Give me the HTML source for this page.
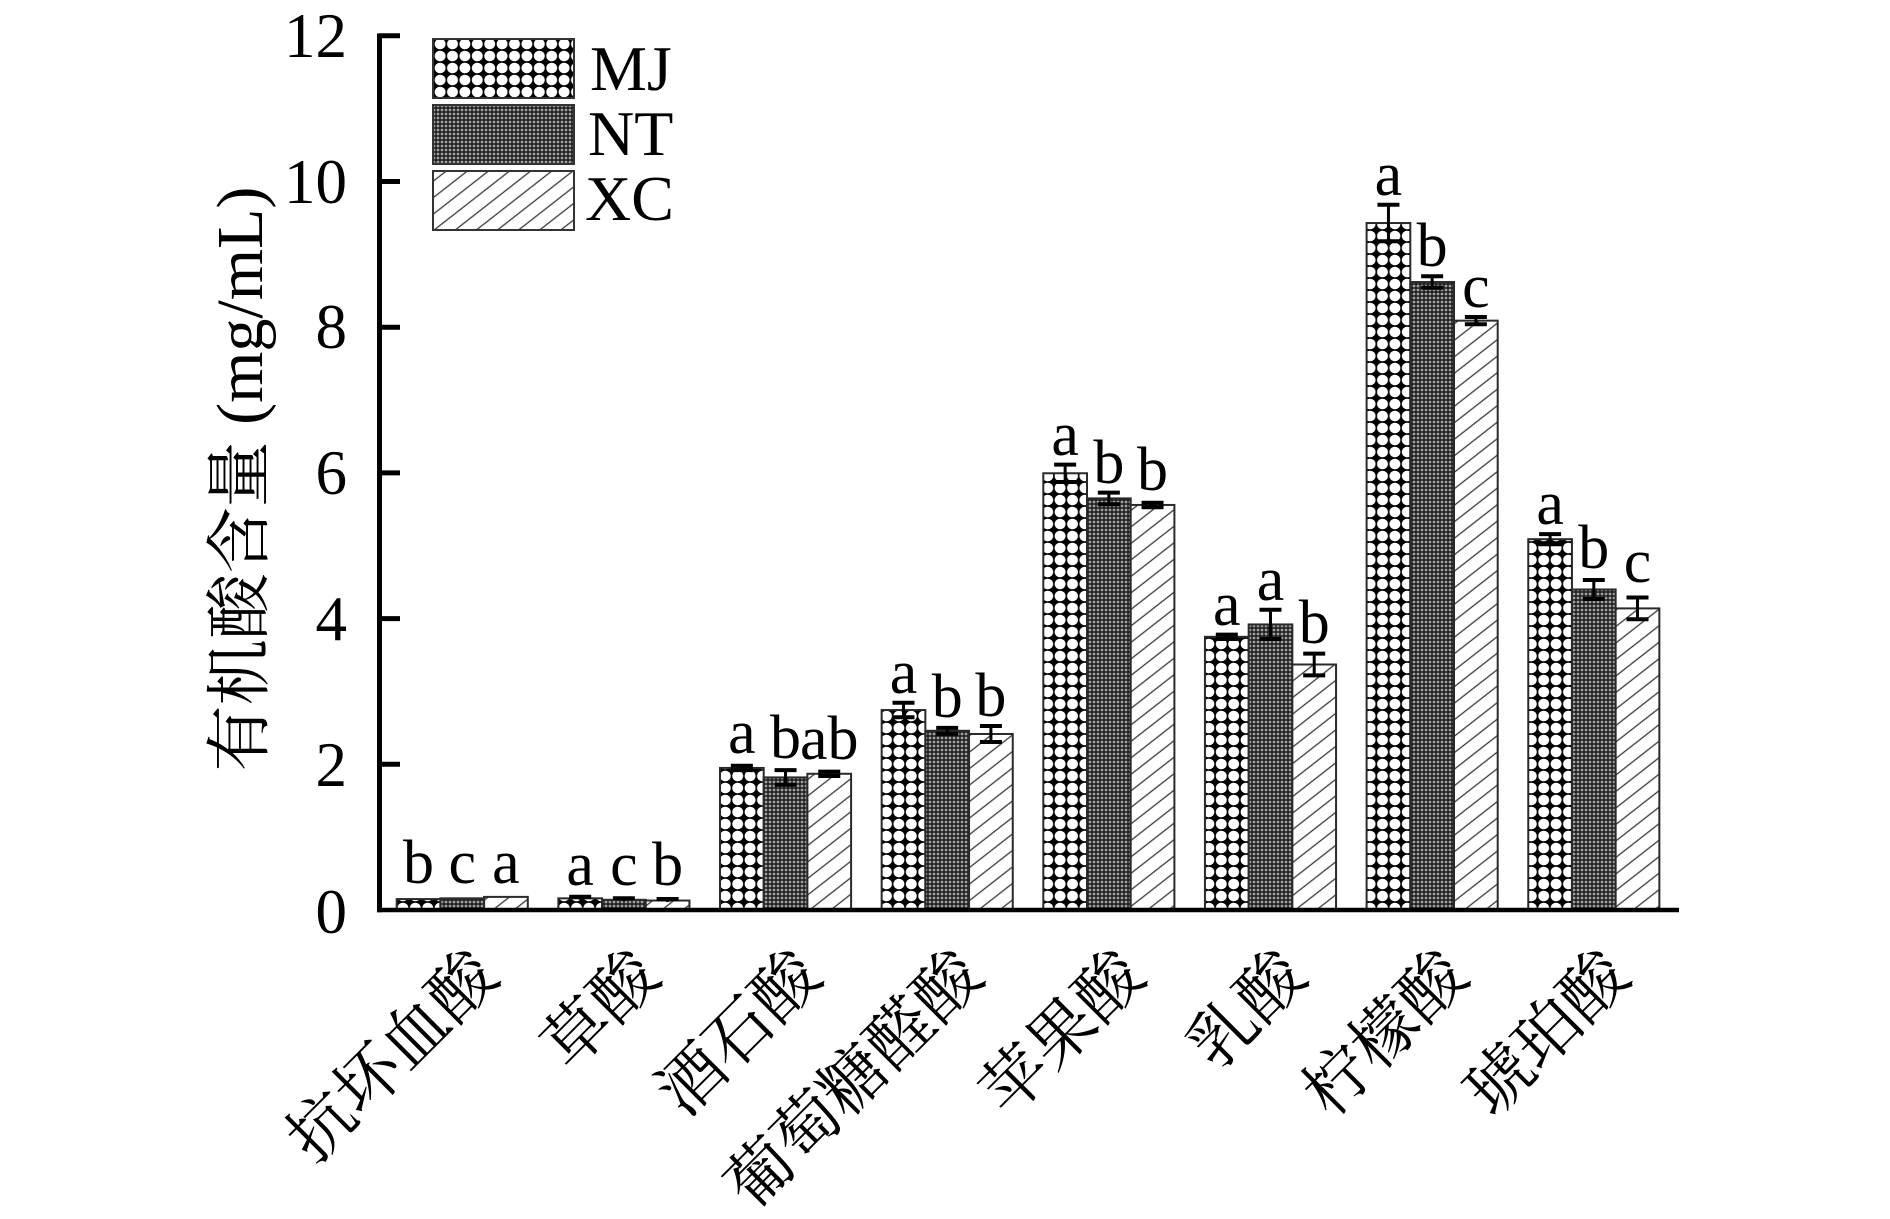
<!DOCTYPE html>
<html><head><meta charset="utf-8"><style>
html,body{margin:0;padding:0;background:#fff;}
svg{display:block;}
</style></head><body>
<svg width="1890" height="1219" viewBox="0 0 1890 1219" xmlns="http://www.w3.org/2000/svg">
<defs>
<pattern id="pMJ" patternUnits="userSpaceOnUse" width="12.4" height="12" x="396.7" y="2">
<rect width="12.4" height="12" fill="#000"/>
<ellipse cx="6.2" cy="6" rx="5.45" ry="5.25" fill="#fff"/>
</pattern>
<pattern id="pNT" patternUnits="userSpaceOnUse" width="4" height="4">
<rect width="4" height="4" fill="#202020"/>
<circle cx="2" cy="2" r="1.4" fill="#a0a0a0"/>
</pattern>
<pattern id="pXC" patternUnits="userSpaceOnUse" width="12" height="13" patternTransform="rotate(-38)">
<rect width="12" height="13" fill="#fff"/>
<line x1="-1" y1="6.5" x2="13" y2="6.5" stroke="#3a3a3a" stroke-width="1.3"/>
</pattern>
</defs>

<!-- bars -->
<g stroke="#2a2a2a" stroke-width="2">
<rect x="396.7" y="899.07" width="43.7" height="10.93" fill="url(#pMJ)"/>
<rect x="440.4" y="898.34" width="43.7" height="11.66" fill="url(#pNT)"/>
<rect x="484.1" y="896.89" width="43.7" height="13.11" fill="url(#pXC)"/>
<rect x="558.35" y="898.34" width="43.7" height="11.66" fill="url(#pMJ)"/>
<rect x="602.05" y="899.8" width="43.7" height="10.2" fill="url(#pNT)"/>
<rect x="645.75" y="900.53" width="43.7" height="9.47" fill="url(#pXC)"/>
<rect x="720.0" y="767.94" width="43.7" height="142.06" fill="url(#pMJ)"/>
<rect x="763.7" y="777.41" width="43.7" height="132.59" fill="url(#pNT)"/>
<rect x="807.4" y="773.77" width="43.7" height="136.23" fill="url(#pXC)"/>
<rect x="881.65" y="710.03" width="43.7" height="199.97" fill="url(#pMJ)"/>
<rect x="925.35" y="730.79" width="43.7" height="179.21" fill="url(#pNT)"/>
<rect x="969.05" y="733.99" width="43.7" height="176.01" fill="url(#pXC)"/>
<rect x="1043.3" y="473.26" width="43.7" height="436.74" fill="url(#pMJ)"/>
<rect x="1087.0" y="498.4" width="43.7" height="411.6" fill="url(#pNT)"/>
<rect x="1130.7" y="504.95" width="43.7" height="405.05" fill="url(#pXC)"/>
<rect x="1204.95" y="636.81" width="43.7" height="273.19" fill="url(#pMJ)"/>
<rect x="1248.65" y="624.43" width="43.7" height="285.57" fill="url(#pNT)"/>
<rect x="1292.35" y="664.49" width="43.7" height="245.51" fill="url(#pXC)"/>
<rect x="1366.6" y="223.03" width="43.7" height="686.97" fill="url(#pMJ)"/>
<rect x="1410.3" y="282.03" width="43.7" height="627.97" fill="url(#pNT)"/>
<rect x="1454.0" y="320.64" width="43.7" height="589.36" fill="url(#pXC)"/>
<rect x="1528.25" y="539.19" width="43.7" height="370.81" fill="url(#pMJ)"/>
<rect x="1571.95" y="589.46" width="43.7" height="320.54" fill="url(#pNT)"/>
<rect x="1615.65" y="608.4" width="43.7" height="301.6" fill="url(#pXC)"/>
</g>

<!-- error bars -->
<g stroke="#000" fill="none">
<g stroke-width="3">
<line x1="580.2" y1="896.8" x2="580.2" y2="899.8"/>
<line x1="623.9" y1="898.3" x2="623.9" y2="901.3"/>
<line x1="667.6" y1="899" x2="667.6" y2="902"/>
<line x1="741.85" y1="765.7" x2="741.85" y2="770.1"/>
<line x1="785.55" y1="770.1" x2="785.55" y2="784.7"/>
<line x1="829.25" y1="771.6" x2="829.25" y2="776"/>
<line x1="903.5" y1="702.7" x2="903.5" y2="717.3"/>
<line x1="947.2" y1="727.9" x2="947.2" y2="733.7"/>
<line x1="990.9" y1="726" x2="990.9" y2="742"/>
<line x1="1065.15" y1="464.6" x2="1065.15" y2="482"/>
<line x1="1108.85" y1="492.6" x2="1108.85" y2="504.2"/>
<line x1="1152.55" y1="502.8" x2="1152.55" y2="507.2"/>
<line x1="1226.8" y1="634.6" x2="1226.8" y2="639"/>
<line x1="1270.5" y1="609.8" x2="1270.5" y2="639"/>
<line x1="1314.2" y1="653.6" x2="1314.2" y2="675.4"/>
<line x1="1388.45" y1="204.8" x2="1388.45" y2="241.2"/>
<line x1="1432.15" y1="276.2" x2="1432.15" y2="287.8"/>
<line x1="1475.85" y1="317" x2="1475.85" y2="324.2"/>
<line x1="1550.1" y1="534.1" x2="1550.1" y2="544.3"/>
<line x1="1593.8" y1="580" x2="1593.8" y2="599"/>
<line x1="1637.5" y1="597.5" x2="1637.5" y2="619.3"/>
</g>
<g stroke-width="4">
<line x1="569.2" y1="896.8" x2="591.2" y2="896.8"/>
<line x1="612.9" y1="898.3" x2="634.9" y2="898.3"/>
<line x1="656.6" y1="899" x2="678.6" y2="899"/>
<line x1="730.85" y1="765.7" x2="752.85" y2="765.7"/><line x1="730.85" y1="770.1" x2="752.85" y2="770.1"/>
<line x1="774.55" y1="770.1" x2="796.55" y2="770.1"/><line x1="774.55" y1="784.7" x2="796.55" y2="784.7"/>
<line x1="818.25" y1="771.6" x2="840.25" y2="771.6"/><line x1="818.25" y1="776" x2="840.25" y2="776"/>
<line x1="892.5" y1="702.7" x2="914.5" y2="702.7"/><line x1="892.5" y1="717.3" x2="914.5" y2="717.3"/>
<line x1="936.2" y1="727.9" x2="958.2" y2="727.9"/><line x1="936.2" y1="733.7" x2="958.2" y2="733.7"/>
<line x1="979.9" y1="726" x2="1001.9" y2="726"/><line x1="979.9" y1="742" x2="1001.9" y2="742"/>
<line x1="1054.15" y1="464.6" x2="1076.15" y2="464.6"/><line x1="1054.15" y1="482" x2="1076.15" y2="482"/>
<line x1="1097.85" y1="492.6" x2="1119.85" y2="492.6"/><line x1="1097.85" y1="504.2" x2="1119.85" y2="504.2"/>
<line x1="1141.55" y1="502.8" x2="1163.55" y2="502.8"/><line x1="1141.55" y1="507.2" x2="1163.55" y2="507.2"/>
<line x1="1215.8" y1="634.6" x2="1237.8" y2="634.6"/><line x1="1215.8" y1="639" x2="1237.8" y2="639"/>
<line x1="1259.5" y1="609.8" x2="1281.5" y2="609.8"/><line x1="1259.5" y1="639" x2="1281.5" y2="639"/>
<line x1="1303.2" y1="653.6" x2="1325.2" y2="653.6"/><line x1="1303.2" y1="675.4" x2="1325.2" y2="675.4"/>
<line x1="1377.45" y1="204.8" x2="1399.45" y2="204.8"/><line x1="1377.45" y1="241.2" x2="1399.45" y2="241.2"/>
<line x1="1421.15" y1="276.2" x2="1443.15" y2="276.2"/><line x1="1421.15" y1="287.8" x2="1443.15" y2="287.8"/>
<line x1="1464.85" y1="317" x2="1486.85" y2="317"/><line x1="1464.85" y1="324.2" x2="1486.85" y2="324.2"/>
<line x1="1539.1" y1="534.1" x2="1561.1" y2="534.1"/><line x1="1539.1" y1="544.3" x2="1561.1" y2="544.3"/>
<line x1="1582.8" y1="580" x2="1604.8" y2="580"/><line x1="1582.8" y1="599" x2="1604.8" y2="599"/>
<line x1="1626.5" y1="597.5" x2="1648.5" y2="597.5"/><line x1="1626.5" y1="619.3" x2="1648.5" y2="619.3"/>
</g>
</g>

<!-- significance letters -->
<g font-family="'Liberation Serif', serif" font-size="62" text-anchor="middle" fill="#000">
<text x="418.55" y="883">b</text><text x="462.25" y="883">c</text><text x="505.95" y="883">a</text>
<text x="580.2" y="885">a</text><text x="623.9" y="885">c</text><text x="667.6" y="885">b</text>
<text x="741.85" y="753">a</text><text x="785.55" y="758">b</text><text x="829.25" y="759">ab</text>
<text x="903.5" y="693">a</text><text x="947.2" y="717">b</text><text x="990.9" y="716">b</text>
<text x="1065.15" y="455">a</text><text x="1108.85" y="483">b</text><text x="1152.55" y="490">b</text>
<text x="1226.8" y="625">a</text><text x="1270.5" y="600">a</text><text x="1314.2" y="643">b</text>
<text x="1388.45" y="195">a</text><text x="1432.15" y="266">b</text><text x="1475.85" y="307">c</text>
<text x="1550.1" y="524">a</text><text x="1593.8" y="568">b</text><text x="1637.5" y="582">c</text>
</g>

<!-- axes -->
<g stroke="#000">
<line x1="379.5" y1="33.5" x2="379.5" y2="912.2" stroke-width="5"/>
<line x1="377" y1="910" x2="1679" y2="910" stroke-width="4.5"/>
<g stroke-width="5">
<line x1="379" y1="764.3" x2="400" y2="764.3"/>
<line x1="379" y1="618.6" x2="400" y2="618.6"/>
<line x1="379" y1="472.9" x2="400" y2="472.9"/>
<line x1="379" y1="327.2" x2="400" y2="327.2"/>
<line x1="379" y1="181.5" x2="400" y2="181.5"/>
<line x1="379" y1="35.8" x2="400" y2="35.8"/>
</g>
</g>

<!-- y tick labels -->
<g font-family="'Liberation Serif', serif" font-size="63" text-anchor="end" fill="#000">
<text x="347" y="933">0</text>
<text x="347" y="786">2</text>
<text x="347" y="640">4</text>
<text x="347" y="494">6</text>
<text x="347" y="348">8</text>
<text x="347" y="203">10</text>
<text x="347" y="57">12</text>
</g>

<!-- y axis title -->
<text transform="translate(262,479) rotate(-90)" text-anchor="middle" font-family="'Liberation Serif', 'Noto Serif CJK SC', serif" font-size="66" fill="#000">有机酸含量 (mg/mL)</text>

<!-- x category labels -->
<g font-family="'Liberation Serif', 'Noto Serif CJK SC', serif" font-size="66" text-anchor="end" fill="#000">
<text transform="translate(501.3,979) rotate(-45)">抗坏血酸</text>
<text transform="translate(662.9,979) rotate(-45)">草酸</text>
<text transform="translate(824.6,979) rotate(-45)">酒石酸</text>
<text transform="translate(986.2,979) rotate(-45)">葡萄糖醛酸</text>
<text transform="translate(1147.9,979) rotate(-45)">苹果酸</text>
<text transform="translate(1309.5,979) rotate(-45)">乳酸</text>
<text transform="translate(1471.2,979) rotate(-45)">柠檬酸</text>
<text transform="translate(1632.8,979) rotate(-45)">琥珀酸</text>
</g>

<!-- legend -->
<g stroke="#333" stroke-width="2">
<rect x="433" y="39" width="141" height="59" fill="url(#pMJ)"/>
<rect x="433" y="105" width="141" height="59" fill="url(#pNT)"/>
<rect x="433" y="171" width="141" height="59" fill="url(#pXC)"/>
</g>
<g font-family="'Liberation Serif', serif" font-size="64" fill="#000">
<text x="590" y="90">MJ</text>
<text x="588" y="155">NT</text>
<text x="585" y="220">XC</text>
</g>
</svg>
</body></html>
